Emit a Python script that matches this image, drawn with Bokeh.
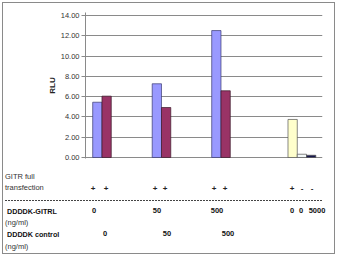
from bokeh.plotting import figure
from bokeh.layouts import column
from bokeh.models import Range1d, FixedTicker, NumeralTickFormatter, ColumnDataSource, Div
from bokeh.embed import file_html
from bokeh.resources import INLINE

# ---- data ----
doses = ["0", "50", "500"]
gitrl_rlu = [5.45, 7.27, 12.52]       # DDDDK-GITRL (blue)
control_rlu = [6.05, 4.93, 6.58]      # DDDDK control (purple)
ctrl_signs = ["+", "-", "-"]
ctrl_doses = ["0", "0", "5000"]
ctrl_rlu = [3.75, 0.32, 0.22]
ctrl_colors = ["#FFFFCC", "#F4FAFA", "#1A1A50"]
ticks = [0, 2, 4, 6, 8, 10, 12, 14]

OX, OY = 3, 3          # inner origin (inside the border)
W, H = 331, 250
H1 = 162               # chart height

# ---------------- chart ----------------
p1 = figure(width=W, height=H1, output_backend="svg", toolbar_location=None,
            x_range=Range1d(-0.277, 3.706), y_range=Range1d(-0.1, 14.3),
            x_axis_location=None, min_border_left=85 - OX, min_border_right=OX + W - 322,
            min_border_top=12 - OY, min_border_bottom=OY + H1 - 158)
p1.outline_line_color = None
p1.border_fill_color = "white"
p1.xgrid.visible = False
p1.ygrid.ticker = FixedTicker(ticks=ticks)
p1.ygrid.grid_line_color = "#8a8a8a"

ax = p1.yaxis[0]
ax.ticker = FixedTicker(ticks=ticks)
ax.formatter = NumeralTickFormatter(format="0.00")
ax.axis_line_color = "#8a8a8a"
ax.major_tick_line_color = "#8a8a8a"
ax.major_tick_out = 4
ax.major_tick_in = 0
ax.minor_tick_line_color = None
ax.major_label_text_font = "Liberation Sans"
ax.major_label_text_font_size = "7.5px"
ax.major_label_text_color = "#333333"
ax.major_label_standoff = 2
ax.axis_label = "RLU"
ax.axis_label_text_font = "Liberation Sans"
ax.axis_label_text_font_size = "8px"
ax.axis_label_text_font_style = "bold"
ax.axis_label_text_color = "#222222"
ax.axis_label_standoff = 1

bw = 0.156
gx = [0, 1, 2]
src = ColumnDataSource(dict(x1=[g - bw / 2 for g in gx], x2=[g + bw / 2 for g in gx],
                            a=gitrl_rlu, b=control_rlu))
p1.vbar(x="x1", top="a", bottom=0, width=bw, source=src, fill_color="#9999FF",
        line_color="#3a3a70", line_width=0.7)
p1.vbar(x="x2", top="b", bottom=0, width=bw, source=src, fill_color="#993366",
        line_color="#3a1a2a", line_width=0.7)
c4 = 3.36
csrc = ColumnDataSource(dict(x=[c4 - bw, c4, c4 + bw], top=ctrl_rlu, color=ctrl_colors))
p1.vbar(x="x", top="top", bottom=0, width=bw, source=csrc, fill_color="color",
        line_color="#555555", line_width=0.7)

# ---------------- table below the chart (SVG text) ----------------
TOP = OY + H1   # page y of the table's top edge
parts = []

def txt(texts, xs, ys, size=7.5, bold=False, align="left", color="#333333"):
    anchor = "middle" if align == "center" else "start"
    for t, x, y in zip(texts, xs, ys):
        parts.append(
            f'<text x="{x - OX}" y="{y - TOP}" text-anchor="{anchor}" dominant-baseline="central" '
            f'font-family="Liberation Sans" font-size="{size}px" '
            f'font-weight="{"bold" if bold else "normal"}" fill="{color}">{t}</text>')

txt(["GITR full", "transfection", "(ng/ml)", "(ng/ml)"], [5, 5, 5, 5], [176, 187.5, 222, 246])
txt(["DDDDK-GITRL", "DDDDK control"], [7, 7], [211, 234], size=7.2, bold=True, color="#111111")

signs = ["+"] * 6 + ctrl_signs
sign_x = [93, 106, 155, 165, 214, 225, 292, 302, 312]
txt(signs, sign_x, [188] * len(signs), size=8, bold=True, align="center", color="#222222")

row1 = doses + ctrl_doses
txt(row1, [94, 157, 217, 292, 301, 317], [210] * len(row1), bold=True, align="center", color="#111111")
txt(doses, [105, 167, 228], [233] * 3, bold=True, align="center", color="#111111")

parts.append(f'<line x1="{5 - OX}" y1="{200.5 - TOP}" x2="{323 - OX}" y2="{200.5 - TOP}" '
             f'stroke="#444444" stroke-width="1" stroke-dasharray="2 1"/>')

html = (f'<svg xmlns="http://www.w3.org/2000/svg" width="{W}" height="{H - H1}" '
        f'style="display:block;background:white;">' + "".join(parts) + '</svg>')
table = Div(text=html, width=W, height=H - H1, styles={"margin": "0", "padding": "0"})

layout = column(p1, table, spacing=0,
                styles={"border": "1px solid #8a8a8a", "margin": "2px 0 0 2px",
                        "background-color": "white"})

open("out.html", "w").write(file_html(layout, INLINE))
